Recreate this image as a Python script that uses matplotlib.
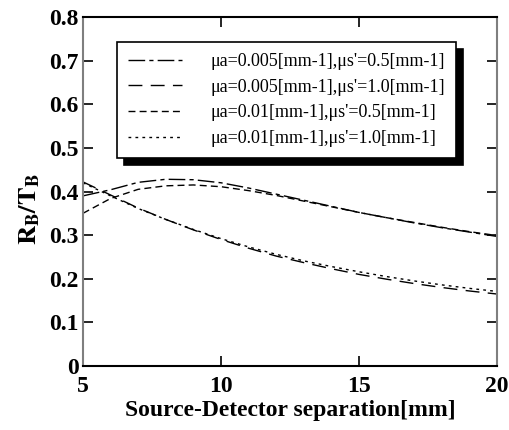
import matplotlib
matplotlib.use('Agg')
import matplotlib.pyplot as plt
import numpy as np

plt.rcParams['font.family'] = ['Liberation Serif', 'DejaVu Serif']
plt.rcParams['mathtext.fontset'] = 'stix'

# data
sep = [5, 6, 7, 8, 9, 10, 11, 12, 13, 14, 15, 16, 17, 18, 19, 20]
s1 = [0.390, 0.404, 0.421, 0.428, 0.427, 0.420, 0.408, 0.394, 0.380, 0.366, 0.352, 0.340, 0.328, 0.317, 0.307, 0.297]
s2 = [0.422, 0.392, 0.362, 0.336, 0.312, 0.290, 0.270, 0.252, 0.237, 0.223, 0.210, 0.199, 0.189, 0.180, 0.172, 0.165]
s3 = [0.350, 0.384, 0.405, 0.413, 0.415, 0.411, 0.402, 0.391, 0.378, 0.365, 0.352, 0.340, 0.329, 0.318, 0.308, 0.299]
s4 = [0.420, 0.390, 0.361, 0.336, 0.313, 0.292, 0.273, 0.256, 0.241, 0.228, 0.216, 0.205, 0.195, 0.186, 0.178, 0.171]
labels = ["μa=0.005[mm-1],μs'=0.5[mm-1]",
          "μa=0.005[mm-1],μs'=1.0[mm-1]",
          "μa=0.01[mm-1],μs'=0.5[mm-1]",
          "μa=0.01[mm-1],μs'=1.0[mm-1]"]
yticks = [0, 0.1, 0.2, 0.3, 0.4, 0.5, 0.6, 0.7, 0.8]
ytick_labels = ['0', '0.1', '0.2', '0.3', '0.4', '0.5', '0.6', '0.7', '0.8']
xticks = [5, 10, 15, 20]

fig = plt.figure(figsize=(5.1, 4.3), dpi=100)
ax = fig.add_axes([0.1627, 0.1488, 0.8118, 0.8117])

styles = [(0, (12, 3, 3, 3)), (0, (10, 6)), (0, (5, 3)), (0, (2, 3))]
for ys, lab, ls in zip([s1, s2, s3, s4], labels, styles):
    ax.plot(sep, ys, color='black', linewidth=1.0, linestyle=ls, label=lab)

ax.set_xlim(5, 20)
ax.set_ylim(0, 0.8)
ax.set_xticks(xticks)
ax.set_xticklabels([str(t) for t in xticks])
ax.set_yticks(yticks)
ax.set_yticklabels(ytick_labels)
ax.tick_params(direction='in', length=7.5, width=1.2, top=True, right=True,
               labelsize=17)
ax.tick_params(axis='x', pad=7)
ax.tick_params(axis='y', pad=3)
for lab in ax.get_xticklabels() + ax.get_yticklabels():
    lab.set_fontweight('bold')
for side in ['left', 'right']:
    ax.spines[side].set_color('#7f7f7f')
    ax.spines[side].set_linewidth(1.5)
for side in ['top', 'bottom']:
    ax.spines[side].set_color('black')
    ax.spines[side].set_linewidth(1.5)

ax.set_xlabel('Source-Detector separation[mm]', fontsize=17, fontweight='bold', labelpad=2)
ax.set_ylabel(r'$\mathbf{R_B/T_B}$', fontsize=19)
ax.yaxis.set_label_coords(-0.098, 0.45)

leg = ax.legend(loc='upper left', bbox_to_anchor=(0.082, 0.928), borderaxespad=0,
                fontsize=13, handlelength=3.0, handletextpad=1.6, fancybox=False, frameon=True,
                shadow={'ox': 5, 'oy': -5, 'color': 'black', 'alpha': 1.0},
                edgecolor='black', framealpha=1, borderpad=0.6, labelspacing=0.48)
leg.get_frame().set_linewidth(1.2)

plt.savefig('out.png', dpi=100)
